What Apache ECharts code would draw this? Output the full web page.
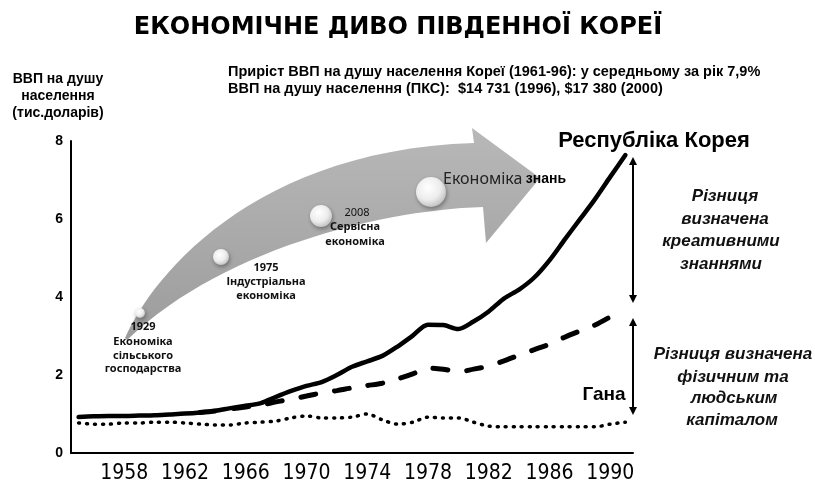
<!DOCTYPE html>
<html>
<head>
<meta charset="utf-8">
<script src="https://cdn.jsdelivr.net/npm/echarts@6/dist/echarts.min.js"></script>
<style>
    html, body { margin: 0; padding: 0; background: #fff; }
    #main { width: 815px; height: 485px; }
</style>
</head>
<body>
<div id="main"></div>
<script>
// роки (категорії осі X)
var years = ['1955', '1956', '1957', '1958', '1959', '1960', '1961', '1962', '1963', '1964',
    '1965', '1966', '1967', '1968', '1969', '1970', '1971', '1972', '1973', '1974',
    '1975', '1976', '1977', '1978', '1979', '1980', '1981', '1982', '1983', '1984',
    '1985', '1986', '1987', '1988', '1989', '1990', '1991'];
var yearLabels = ['1958', '1962', '1966', '1970', '1974', '1978', '1982', '1986', '1990'];
var yTicks = [0, 2, 4, 6, 8];

// ВВП на душу населення, тис. доларів
var korea = [0.92, 0.94, 0.95, 0.95, 0.96, 0.97, 0.99, 1.01, 1.04, 1.08,
    1.15, 1.21, 1.28, 1.44, 1.59, 1.72, 1.82, 2.00, 2.21, 2.35,
    2.49, 2.73, 3.01, 3.29, 3.28, 3.18, 3.37, 3.63, 3.96, 4.19,
    4.50, 4.94, 5.47, 5.99, 6.51, 7.08, 7.64];
var middle = [null, null, null, null, null, null, null, null, 1.04, 1.08,
    1.13, 1.18, 1.23, 1.31, 1.38, 1.46, 1.54, 1.60, 1.67, 1.73,
    1.79, 1.90, 2.03, 2.18, 2.15, 2.08, 2.15, 2.23, 2.36, 2.51,
    2.65, 2.79, 2.97, 3.13, 3.28, 3.49, null];
var ghana = [0.77, 0.74, 0.74, 0.77, 0.77, 0.79, 0.79, 0.77, 0.74, 0.72,
    0.72, 0.77, 0.79, 0.82, 0.90, 0.95, 0.90, 0.90, 0.92, 1.00,
    0.85, 0.74, 0.79, 0.92, 0.90, 0.90, 0.79, 0.69, 0.67, 0.67,
    0.67, 0.67, 0.67, 0.67, 0.67, 0.74, 0.79];

var myChart = echarts.init(document.getElementById('main'));

// точки кубічної кривої Безьє (для декоративної стрілки)
function bezier(p0, p1, p2, p3, n) {
    var pts = [];
    for (var i = 0; i <= n; i++) {
        var t = i / n, u = 1 - t;
        pts.push([
            u * u * u * p0[0] + 3 * u * u * t * p1[0] + 3 * u * t * t * p2[0] + t * t * t * p3[0],
            u * u * u * p0[1] + 3 * u * u * t * p1[1] + 3 * u * t * t * p2[1] + t * t * t * p3[1]
        ]);
    }
    return pts;
}
var arrowPts = bezier([125, 338], [150, 280], [250, 150], [474, 143], 30)
    .concat([[472, 128], [540, 178], [486, 243]])
    .concat(bezier([483, 207], [380, 210], [220, 250], [127, 340], 30));

function sphere(cx, cy, r) {
    return {
        type: 'circle',
        z: 5,
        shape: {cx: cx, cy: cy, r: r},
        style: {
            fill: new echarts.graphic.RadialGradient(0.4, 0.35, 0.75, [
                {offset: 0, color: '#ffffff'},
                {offset: 0.55, color: '#ececec'},
                {offset: 1, color: '#b5b5b5'}
            ]),
            shadowBlur: 4,
            shadowOffsetX: 1,
            shadowOffsetY: 2,
            shadowColor: 'rgba(0,0,0,0.35)'
        }
    };
}

function txt(x, y, text, font, align, color) {
    return {
        type: 'text',
        z: 10,
        x: x, y: y,
        style: {
            text: text,
            font: font,
            fill: color || '#111',
            textAlign: align || 'center',
            textVerticalAlign: 'middle'
        }
    };
}

function dblArrow(x, y1, y2) {
    return {
        type: 'group',
        children: [
            {type: 'line', shape: {x1: x, y1: y1 + 4, x2: x, y2: y2 - 4}, style: {stroke: '#000', lineWidth: 2}},
            {type: 'polygon', shape: {points: [[x, y1], [x - 4, y1 + 8], [x + 4, y1 + 8]]}, style: {fill: '#000'}},
            {type: 'polygon', shape: {points: [[x, y2], [x - 4, y2 - 8], [x + 4, y2 - 8]]}, style: {fill: '#000'}}
        ]
    };
}

var small = 'bold 11px "Noto Sans"';
var italic = 'italic bold 17px "Liberation Sans"';

var option = {
    backgroundColor: '#fff',
    animation: false,
    grid: {left: 71, right: 182, top: 141, bottom: 32},
    xAxis: {
        type: 'category',
        data: years,
        boundaryGap: true,
        axisLine: {lineStyle: {color: '#000', width: 2}},
        axisTick: {show: false},
        axisLabel: {
            interval: function (i, v) { return yearLabels.indexOf(v) >= 0; },
            color: '#000',
            fontFamily: '"Liberation Sans Narrow", "DejaVu Sans Condensed", sans-serif',
            fontSize: 21,
            margin: 10
        },
        splitLine: {show: false}
    },
    yAxis: {
        type: 'value',
        min: yTicks[0],
        max: yTicks[yTicks.length - 1],
        interval: 2,
        axisLine: {show: true, lineStyle: {color: '#000', width: 2}},
        axisTick: {show: false},
        axisLabel: {color: '#000', fontWeight: 'bold', fontSize: 14, fontFamily: '"Liberation Sans"', margin: 8},
        splitLine: {show: false}
    },
    series: [
        {
            name: 'Республіка Корея',
            type: 'line',
            data: korea,
            smooth: 0.3,
            symbol: 'none',
            lineStyle: {color: '#000', width: 4.5, cap: 'round'},
            z: 5
        },
        {
            name: 'Середній рівень',
            type: 'line',
            data: middle,
            smooth: 0.3,
            symbol: 'none',
            lineStyle: {color: '#000', width: 5, type: [15, 19], cap: 'round'},
            z: 4
        },
        {
            name: 'Гана',
            type: 'line',
            data: ghana,
            smooth: 0.3,
            symbol: 'none',
            lineStyle: {color: '#000', width: 3.5, type: [1, 7], cap: 'round'},
            z: 3
        }
    ],
    graphic: [
        {
            type: 'polygon',
            z: 0,
            shape: {points: arrowPts},
            style: {
                fill: new echarts.graphic.LinearGradient(0, 0, 0, 1, [
                    {offset: 0, color: '#b8b8b8'},
                    {offset: 1, color: '#9c9c9c'}
                ])
            }
        },
        sphere(140, 313, 5),
        sphere(221, 257, 8),
        sphere(321, 216, 11),
        sphere(431, 192, 15),
        txt(398, 28, 'ЕКОНОМІЧНЕ ДИВО ПІВДЕННОЇ КОРЕЇ', 'bold 24px "DejaVu Sans"', 'center', '#000'),
        txt(228, 72, 'Приріст ВВП на душу населення Кореї (1961-96): у середньому за рік 7,9%', 'bold 14.5px "Liberation Sans"', 'left', '#000'),
        txt(228, 89, 'ВВП на душу населення (ПКС):  $14 731 (1996), $17 380 (2000)', 'bold 14.5px "Liberation Sans"', 'left', '#000'),
        txt(58, 79, 'ВВП на душу', 'bold 14px "Liberation Sans"', 'center', '#000'),
        txt(58, 96, 'населення', 'bold 14px "Liberation Sans"', 'center', '#000'),
        txt(58, 113, '(тис.доларів)', 'bold 14px "Liberation Sans"', 'center', '#000'),
        txt(143, 327, '1929', small),
        txt(143, 342, 'Економіка', small),
        txt(143, 356, 'сільського', small),
        txt(143, 369, 'господарства', small),
        txt(266, 268, '1975', small),
        txt(266, 282, 'Індустріальна', small),
        txt(266, 296, 'економіка', small),
        txt(357, 213, '2008', '11px "Noto Sans"'),
        txt(355, 227, 'Сервісна', small),
        txt(355, 242, 'економіка', small),
        {
            type: 'text',
            z: 10,
            x: 443, y: 179,
            style: {
                text: '{a|Економіка} {b|знань}',
                textVerticalAlign: 'middle',
                rich: {
                    a: {font: '16px "Noto Sans"', fill: '#222'},
                    b: {font: 'bold 14px "Liberation Sans"', fill: '#000'}
                }
            }
        },
        txt(654, 141, 'Республіка Корея', 'bold 22px "Liberation Sans"', 'center', '#000'),
        dblArrow(633, 157, 303),
        dblArrow(633, 318, 415),
        txt(725, 196, 'Різниця', italic),
        txt(725, 219, 'визначена', italic),
        txt(721, 241, 'креативними', italic),
        txt(721, 264, 'знаннями', italic),
        txt(604, 395, 'Гана', 'bold 19px "Liberation Sans"', 'center', '#000'),
        txt(733, 354, 'Різниця визначена', italic),
        txt(733, 377, 'фізичним та', italic),
        txt(734, 398, 'людським', italic),
        txt(732, 420, 'капіталом', italic)
    ]
};

myChart.setOption(option);
</script>
</body>
</html>
